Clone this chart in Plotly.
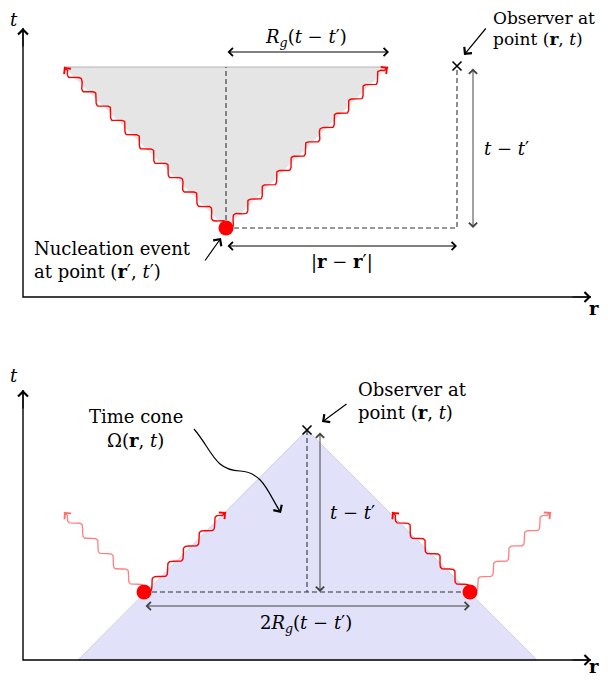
import numpy as np
import plotly.graph_objects as go

# ---- diagram points (pixel-like coordinates, y grows downward) ----
# top panel
top_axis_x = [23, 23, 591]
top_axis_y = [28, 297, 297]
top_cone_x = [64, 388, 226]
top_cone_y = [67, 67, 228]
top_event = (226, 228)
top_observer = (457, 66)
top_wave_ends = [(64, 67), (388, 67)]

# bottom panel
bot_axis_x = [23, 23, 591]
bot_axis_y = [390, 660, 660]
bot_cone_x = [78, 307, 537]
bot_cone_y = [660, 430, 660]
bot_events_x = [144, 470]
bot_events_y = [592, 592]
bot_observer = (307, 430)
bot_waves_solid = [((144, 592), (226, 512)), ((470, 592), (392, 512))]
bot_waves_faded = [((144, 592), (64, 512)), ((470, 592), (551, 512))]

FONT = "DejaVu Serif"
RED = "#ff0000"


def snake(p0, p1, period=21, amp=4.0, tail=5):
    # wavy path between two points (TikZ-like snake decoration)
    p0 = np.array(p0, float)
    p1 = np.array(p1, float)
    d = p1 - p0
    length = np.hypot(*d)
    u = d / length
    n = np.array([-u[1], u[0]])
    wl = length - tail
    per = wl / max(1, round(wl / period))
    s = np.linspace(0, wl, 400)
    off = amp * np.sin(2 * np.pi * s / per)
    pts = p0[None, :] + s[:, None] * u[None, :] + off[:, None] * n[None, :]
    pts = np.vstack([pts, p1])
    return pts[:, 0], pts[:, 1]


fig = go.Figure()

# cones
fig.add_trace(go.Scatter(x=top_cone_x + [top_cone_x[0]], y=top_cone_y + [top_cone_y[0]],
                         mode="lines", fill="toself", fillcolor="rgb(229,229,229)",
                         line=dict(color="rgba(0,0,0,0)", width=0), hoverinfo="skip"))
fig.add_trace(go.Scatter(x=top_cone_x[:2], y=top_cone_y[:2], mode="lines",
                         line=dict(color="#b4b4b4", width=1.2), hoverinfo="skip"))
fig.add_trace(go.Scatter(x=bot_cone_x + [bot_cone_x[0]], y=bot_cone_y + [bot_cone_y[0]],
                         mode="lines", fill="toself", fillcolor="rgb(225,225,250)",
                         line=dict(color="#d2d2dc", width=1), hoverinfo="skip"))

dash = dict(color="#333333", width=1.1, dash="5px,3px")
# top dashed guides
fig.add_trace(go.Scatter(x=[top_event[0], top_event[0]], y=[top_event[1], top_cone_y[0]],
                         mode="lines", line=dash, hoverinfo="skip"))
fig.add_trace(go.Scatter(x=[top_event[0], top_observer[0], top_observer[0]],
                         y=[top_event[1], top_event[1], top_observer[1]],
                         mode="lines", line=dash, hoverinfo="skip"))
# bottom dashed guides
fig.add_trace(go.Scatter(x=bot_events_x, y=bot_events_y, mode="lines", line=dash, hoverinfo="skip"))
fig.add_trace(go.Scatter(x=[bot_observer[0], bot_observer[0]], y=[bot_observer[1], bot_events_y[0]],
                         mode="lines", line=dash, hoverinfo="skip"))

# axes
for ax_x, ax_y in [(top_axis_x, top_axis_y), (bot_axis_x, bot_axis_y)]:
    fig.add_trace(go.Scatter(x=ax_x, y=ax_y, mode="lines",
                             line=dict(color="black", width=1.4), hoverinfo="skip"))

# waves
arrows = []
for end in top_wave_ends:
    wx, wy = snake(top_event, end)
    fig.add_trace(go.Scatter(x=wx, y=wy, mode="lines", line=dict(color=RED, width=1.4),
                             hoverinfo="skip"))
    arrows.append((end, (wx[-3], wy[-3]), RED, "end"))
for p0, p1 in bot_waves_solid:
    wx, wy = snake(p0, p1)
    fig.add_trace(go.Scatter(x=wx, y=wy, mode="lines", line=dict(color=RED, width=1.4),
                             hoverinfo="skip"))
    arrows.append((p1, (wx[-3], wy[-3]), RED, "end"))
for p0, p1 in bot_waves_faded:
    wx, wy = snake(p0, p1)
    fig.add_trace(go.Scatter(x=wx, y=wy, mode="lines", line=dict(color="rgba(255,0,0,0.5)", width=1.3),
                             hoverinfo="skip"))
    arrows.append((p1, (wx[-3], wy[-3]), "rgba(255,110,110,1)", "end"))

# event dots and observers
fig.add_trace(go.Scatter(x=[top_event[0]] + bot_events_x, y=[top_event[1]] + bot_events_y,
                         mode="markers", marker=dict(color=RED, size=15), hoverinfo="skip"))
fig.add_trace(go.Scatter(x=[top_observer[0], bot_observer[0]], y=[top_observer[1], bot_observer[1]],
                         mode="markers",
                         marker=dict(symbol="x-thin", size=9, line=dict(color="black", width=1.6)),
                         hoverinfo="skip"))

ann = []


def arrow(head, tail, color="black", side="end", width=1.2, size=1.6):
    ann.append(dict(x=head[0], y=head[1], ax=tail[0], ay=tail[1], xref="x", yref="y",
                    axref="x", ayref="y", text="", showarrow=True, arrowhead=4,
                    startarrowhead=4, arrowside=side, arrowsize=size, startarrowsize=size,
                    arrowwidth=width, arrowcolor=color))


def label(x, y, txt, xanchor="center", size=18):
    ann.append(dict(x=x, y=y, xref="x", yref="y", text=txt, showarrow=False,
                    xanchor=xanchor, yanchor="middle",
                    font=dict(family=FONT, size=size, color="black")))


for head, tail, col, side in arrows:
    arrow(head, tail, col, side, width=1.3, size=1.3)

# axis heads
arrow((top_axis_x[0], top_axis_y[0]), (top_axis_x[0], top_axis_y[0] + 20))
arrow((top_axis_x[2], top_axis_y[2]), (top_axis_x[2] - 20, top_axis_y[2]))
arrow((bot_axis_x[0], bot_axis_y[0]), (bot_axis_x[0], bot_axis_y[0] + 20))
arrow((bot_axis_x[2], bot_axis_y[2]), (bot_axis_x[2] - 20, bot_axis_y[2]))

# top measurement arrows
arrow((389, 52), (226, 52), side="end+start", width=1.0)
arrow((473, 228), (473, 67), side="end+start", width=1.0, color="#444444")
arrow((457, 246), (226, 246), side="end+start", width=1.0)
arrow((464, 55), (487, 27), width=1.2)
arrow((221, 238), (204, 262), width=1.2)

# bottom measurement arrows
arrow((320, 592), (320, 431), side="end+start", width=1.0, color="#444444")
arrow((470, 606), (144, 606), side="end+start", width=1.0, color="#444444")
arrow((322, 422), (348, 403), width=1.2)
arrow((281, 513), (276, 505), width=1.2)

# labels top
label(14, 19, "<i>t</i>")
label(594, 308, "<b>r</b>")
label(491, 18, "Observer at", "left", size=17)
label(491, 39, "point (<b>r</b>, <i>t</i>)", "left", size=17)
label(306, 38, "<i>R</i><sub><i>g</i></sub>(<i>t</i> − <i>t</i>′)")
label(506, 148, "<i>t</i> − <i>t</i>′")
label(342, 262, "|<b>r</b> − <b>r</b>′|")
label(32, 248, "Nucleation event", "left")
label(32, 271, "at point (<b>r</b>′, <i>t</i>′)", "left")

# labels bottom
label(14, 375, "<i>t</i>")
label(594, 666, "<b>r</b>")
label(356, 389, "Observer at", "left")
label(356, 412, "point (<b>r</b>, <i>t</i>)", "left")
label(136, 416, "Time cone")
label(135, 440, "Ω(<b>r</b>, <i>t</i>)")
label(352, 512, "<i>t</i> − <i>t</i>′")
label(306, 624, "2<i>R</i><sub><i>g</i></sub>(<i>t</i> − <i>t</i>′)")

# curvy pointer to the time cone
shapes = [dict(type="path", xref="x", yref="y",
               path="M 194,429 C 212,450 214,470 240,471 C 262,472 268,492 278,508",
               line=dict(color="black", width=1.2))]

# page body adds an 8px margin on every side, so the figure spans page pixels 8..600 x 8..676
fig.update_layout(
    width=592, height=668,
    margin=dict(l=0, r=0, t=0, b=0),
    plot_bgcolor="white", paper_bgcolor="white",
    showlegend=False,
    xaxis=dict(range=[8, 600], visible=False, fixedrange=True),
    yaxis=dict(range=[676, 8], visible=False, fixedrange=True),
    annotations=ann,
    shapes=shapes,
)

fig.write_html("out.html")
